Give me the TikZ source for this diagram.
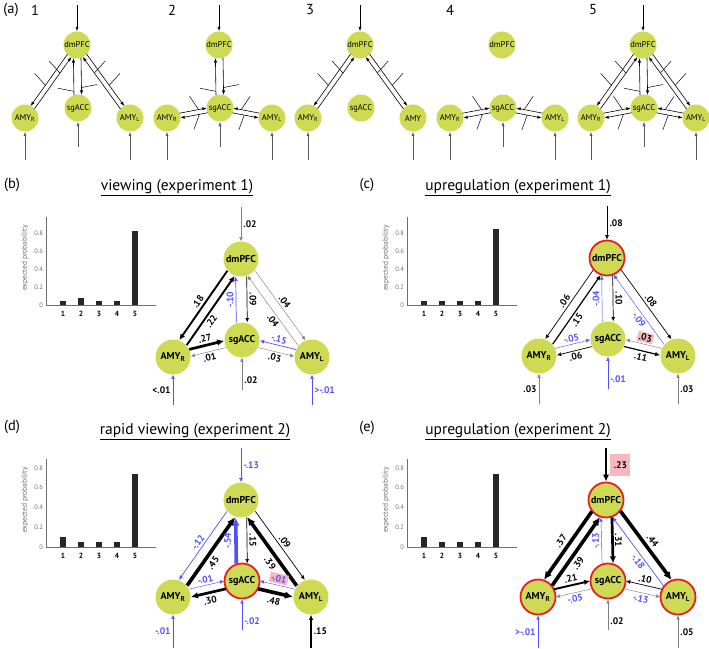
\documentclass[tikz,border=0pt]{standalone}
\usepackage{fontspec}
\setmainfont{PT Sans}
\usepackage{tikz}
\usetikzlibrary{arrows.meta,calc}

\definecolor{nodegreen}{RGB}{206,218,84}
\definecolor{negblue}{RGB}{80,80,255}
\definecolor{hotred}{RGB}{230,30,36}
\definecolor{pinkbg}{RGB}{246,184,190}
\definecolor{axisgray}{RGB}{110,110,110}

% one connection between two regions, moved sideways by #4
\newcommand{\conn}[5][]{%
  \draw[#1] ($(#2)!17.5pt!(#3)!#4!90:(#3)$) -- ($(#3)!17.5pt!(#2)!#4!-90:(#2)$) #5;}

% two opposite arrows between #1 and #2, each with a modulating input
% (#4 angle and #5 spot on #1->#2, #6 angle and #7 spot on #2->#1)
\newcommand{\duo}[7]{%
  \draw[arrA] ($(#1)!13pt!(#2)!#3!90:(#2)$) coordinate (u1) -- ($(#2)!13pt!(#1)!#3!-90:(#1)$) coordinate (u2);
  \draw[arrA] ($(#2)!13pt!(#1)!#3!90:(#1)$) coordinate (v1) -- ($(#1)!13pt!(#2)!#3!-90:(#2)$) coordinate (v2);
  \coordinate (u) at ($(u1)!#5!(u2)$);
  \coordinate (v) at ($(v1)!#7!(v2)$);
  \draw[modA] ($(u)+(#4:16pt)$) -- (u);
  \draw[modA] ($(v)+(#6:16pt)$) -- (v);}

\begin{document}
\begin{tikzpicture}[x=1pt, y=-1pt,
  region/.style={circle, fill=nodegreen, inner sep=0pt, minimum size=35pt, font=\fontsize{10}{10}\selectfont\bfseries},
  hot/.style={draw=hotred, line width=1.8pt},
  tiny/.style={circle, fill=nodegreen, inner sep=0pt, minimum size=27pt, font=\fontsize{8.5}{9}\selectfont},
  arrA/.style={-{Latex[length=4.5pt,width=3.2pt]}, line width=0.6pt},
  modA/.style={line width=0.5pt},
  wire/.style={-{Latex[length=3.5pt 1.3,width=3pt 1.3]}},
  w0/.style={wire, line width=0.45pt, draw=black!50},
  w1/.style={wire, line width=0.7pt},
  w2/.style={wire, line width=1.2pt},
  w3/.style={wire, line width=1.9pt},
  w4/.style={wire, line width=2.7pt},
  w5/.style={wire, line width=3.6pt},
  neg/.style={draw=negblue, text=negblue},
  lab/.style={font=\fontsize{9.5}{10}\selectfont\bfseries, inner sep=2.2pt},
  flag/.style={fill=pinkbg, inner sep=1.5pt},
  title/.style={font=\fontsize{15.5}{16}\selectfont},
  tag/.style={font=\fontsize{14.5}{15}\selectfont},
  numtag/.style={font=\fontsize{14.5}{15}\selectfont},
  tick/.style={font=\fontsize{6.5}{7}\selectfont, text=axisgray, anchor=east, inner sep=1pt},
  cat/.style={font=\fontsize{7.5}{8}\selectfont\bfseries},
  ylab/.style={font=\fontsize{7.5}{8}\selectfont, text=axisgray, rotate=90},
  axis/.style={draw=axisgray, line width=0.6pt},
  bar/.style={fill=black!85}
]
\useasboundingbox (0,0) rectangle (709,648);

% (a) five candidate models
\node[tag] at (11,10) {(a)};
\foreach \k/\x/\nx/\lname in {1/77/35/AMY\textsubscript{L}, 2/219/172/AMY\textsubscript{L}, 3/360/310/AMY, 4/502/450/AMY\textsubscript{L}, 5/643/593/AMY\textsubscript{L}} {
  \node[numtag] at (\nx,10) {\k};
  \node[tiny] (pfc\k) at (\x,45) {dmPFC};
  \node[tiny] (acc\k) at (\x+1,108) {sgACC};
  \node[tiny] (amr\k) at (\x-52,118) {AMY\textsubscript{R}};
  \node[tiny] (aml\k) at (\x+53,118) {\lname};
  \coordinate (inr\k) at (\x-52,160);
  \coordinate (inl\k) at (\x+53,160);
  \draw[arrA, draw=black!65] (inr\k) -- (amr\k);
  \draw[arrA, draw=black!65] (inl\k) -- (aml\k);
}
\foreach \k/\x in {1/77, 2/219, 3/360, 5/643} {
  \coordinate (top\k) at (\x,5);
  \draw[arrA] (top\k) -- (pfc\k);
}
\foreach \k/\x in {1/77, 2/219, 4/502, 5/643} {
  \coordinate (low\k) at (\x+1,147);
  \draw[arrA, draw=black!65] (low\k) -- (acc\k);
}
% model connections
\duo{pfc1}{amr1}{-2.4pt}{132}{0.6}{132}{0.69}
\duo{pfc1}{acc1}{3.8pt}{11}{0.8}{169}{0.1}
\duo{pfc1}{aml1}{2.4pt}{48}{0.6}{48}{0.69}
\duo{pfc2}{acc2}{3.8pt}{11}{0.8}{169}{0.1}
\duo{amr2}{acc2}{2.4pt}{124}{0.7}{250}{0.3}
\duo{aml2}{acc2}{-2.4pt}{56}{0.7}{250}{0.45}
\duo{pfc3}{amr3}{-2.4pt}{132}{0.6}{132}{0.69}
\duo{pfc3}{aml3}{2.4pt}{48}{0.6}{48}{0.69}
\duo{amr4}{acc4}{2.4pt}{124}{0.7}{250}{0.3}
\duo{aml4}{acc4}{-2.4pt}{56}{0.7}{250}{0.45}
\duo{pfc5}{amr5}{-2.4pt}{132}{0.6}{132}{0.69}
\duo{pfc5}{acc5}{3.8pt}{11}{0.8}{169}{0.1}
\duo{pfc5}{aml5}{2.4pt}{48}{0.6}{48}{0.69}
\duo{amr5}{acc5}{2.4pt}{124}{0.7}{250}{0.3}
\duo{aml5}{acc5}{-2.4pt}{56}{0.7}{250}{0.45}

% panel tags and titles
\node[tag] at (12,185) {(b)};
\node[title] at (177,188) {\underline{viewing (experiment 1)}};
\node[tag] at (367,185) {(c)};
\node[title] at (518,188) {\underline{upregulation (experiment 1)}};
\node[tag] at (12,427) {(d)};
\node[title] at (195,432) {\underline{rapid viewing (experiment 2)}};
\node[tag] at (367,428) {(e)};
\node[title] at (518,432) {\underline{upregulation (experiment 2)}};

% expected probability of the five models
\foreach \ox/\oy/\sc/\vals in {46/305/90/{0.04,0.08,0.04,0.04,0.82}, 407/305/90/{0.04,0.04,0.04,0.04,0.85}, 46/547/99/{0.10,0.05,0.05,0.05,0.74}, 407/547/99/{0.10,0.05,0.05,0.05,0.74}} {
  \begin{scope}[shift={(\ox,\oy)}]
    \draw[axis] (0,-88) -- (0,0) -- (110,0);
    \foreach \tk in {0,0.2,0.4,0.6,0.8} \node[tick] at (-2,{-\sc*\tk}) {\tk};
    \foreach \val [count=\i] in \vals {
      \fill[bar] ({18*\i-4},0) rectangle ({18*\i+2},{-\sc*\val});
      \node[cat] at ({18*\i-1},9) {\i};
    }
    \node[ylab] at (-21,-47) {expected probability};
  \end{scope}
}

% (b) viewing, experiment 1
\begin{scope}[shift={(241,259)}]
  \node[region] (bPFC) at (0,0) {dmPFC};
  \node[region] (bACC) at (1,81) {sgACC};
  \node[region] (bAR) at (-68,98) {AMY\textsubscript{R}};
  \node[region] (bAL) at (71,98) {AMY\textsubscript{L}};
  \coordinate (bTop) at (0,-52);
  \coordinate (bBotR) at (-68,146);
  \coordinate (bBotS) at (1,131);
  \coordinate (bBotL) at (71,146);
\end{scope}
\draw[w0] (bTop) -- (bPFC) node[lab, midway, right] {.02};
\draw[w0, neg] (bBotR) -- (bAR) node[lab, midway, left, text=black] {<.01};
\draw[w0] (bBotS) -- (bACC) node[lab, pos=0.3, right] {.02};
\draw[w0, neg] (bBotL) -- (bAL) node[lab, midway, right] {>-.01};
\conn[w3]{bPFC}{bAR}{-4.5pt}{node[lab, midway, sloped, above] {.18}}
\conn[w3]{bAR}{bPFC}{-4.5pt}{node[lab, pos=0.4, sloped, below] {.22}}
\conn[w1, neg]{bACC}{bPFC}{5.5pt}{node[lab, midway, rotate=90, anchor=south] {-.10}}
\conn[w1]{bPFC}{bACC}{5.5pt}{node[lab, midway, rotate=-90, anchor=south] {.09}}
\conn[w0]{bPFC}{bAL}{4.5pt}{node[lab, midway, sloped, above] {.04}}
\conn[w0]{bAL}{bPFC}{4.5pt}{node[lab, pos=0.4, sloped, below] {.04}}
\conn[w4]{bAR}{bACC}{3.5pt}{node[lab, midway, sloped, above] {.27}}
\conn[w0]{bACC}{bAR}{3.5pt}{node[lab, midway, sloped, below] {.01}}
\conn[w1, neg]{bAL}{bACC}{-3.5pt}{node[lab, midway, sloped, above] {-.15}}
\conn[w0]{bACC}{bAL}{-3.5pt}{node[lab, midway, sloped, below] {.03}}

% (c) upregulation, experiment 1
\begin{scope}[shift={(607,258)}]
  \node[region, hot] (cPFC) at (0,0) {dmPFC};
  \node[region] (cACC) at (1,81) {sgACC};
  \node[region] (cAR) at (-68,98) {AMY\textsubscript{R}};
  \node[region] (cAL) at (71,98) {AMY\textsubscript{L}};
  \coordinate (cTop) at (0,-52);
  \coordinate (cBotR) at (-68,146);
  \coordinate (cBotS) at (1,131);
  \coordinate (cBotL) at (71,146);
\end{scope}
\draw[w1] (cTop) -- (cPFC) node[lab, midway, right] {.08};
\draw[w0] (cBotR) -- (cAR) node[lab, midway, left] {.03};
\draw[w0, neg] (cBotS) -- (cACC) node[lab, pos=0.3, right] {-.01};
\draw[w0] (cBotL) -- (cAL) node[lab, midway, right] {.03};
\conn[w1]{cPFC}{cAR}{-4.5pt}{node[lab, midway, sloped, above] {.06}}
\conn[w2]{cAR}{cPFC}{-4.5pt}{node[lab, pos=0.4, sloped, below] {.15}}
\conn[w0, neg]{cACC}{cPFC}{5.5pt}{node[lab, midway, rotate=90, anchor=south] {-.04}}
\conn[w1]{cPFC}{cACC}{5.5pt}{node[lab, midway, rotate=-90, anchor=south] {.10}}
\conn[w1]{cPFC}{cAL}{4.5pt}{node[lab, midway, sloped, above] {.08}}
\conn[w0, neg]{cAL}{cPFC}{4.5pt}{node[lab, pos=0.4, sloped, below] {-.09}}
\conn[w0, neg]{cAR}{cACC}{3.5pt}{node[lab, midway, sloped, above] {-.05}}
\conn[w1]{cACC}{cAR}{3.5pt}{node[lab, midway, sloped, below] {.06}}
\conn[w0]{cAL}{cACC}{-3.5pt}{node[lab, flag, midway, sloped, above=1.5pt] {.03}}
\conn[w2]{cACC}{cAL}{-3.5pt}{node[lab, midway, sloped, below] {.11}}

% (d) rapid viewing, experiment 2
\begin{scope}[shift={(241,500)}]
  \node[region] (dPFC) at (0,0) {dmPFC};
  \node[region, hot] (dACC) at (1,81) {sgACC};
  \node[region] (dAR) at (-68,97) {AMY\textsubscript{R}};
  \node[region] (dAL) at (70,97) {AMY\textsubscript{L}};
  \coordinate (dTop) at (0,-52);
  \coordinate (dBotR) at (-68,148);
  \coordinate (dBotS) at (1,130);
  \coordinate (dBotL) at (70,148);
\end{scope}
\draw[w1, neg] (dTop) -- (dPFC) node[lab, midway, right] {-.13};
\draw[w0, neg] (dBotR) -- (dAR) node[lab, midway, left] {-.01};
\draw[w0, neg] (dBotS) -- (dACC) node[lab, pos=0.3, right] {-.02};
\draw[w2] (dBotL) -- (dAL) node[lab, midway, right] {.15};
\conn[w1, neg]{dPFC}{dAR}{-5pt}{node[lab, midway, sloped, above] {-.12}}
\conn[w5]{dAR}{dPFC}{-5pt}{node[lab, pos=0.4, sloped, below=1pt] {.45}}
\conn[w5, neg]{dACC}{dPFC}{5.5pt}{node[lab, midway, rotate=90, anchor=south, yshift=1pt] {-.54}}
\conn[w1]{dPFC}{dACC}{5.5pt}{node[lab, midway, rotate=-90, anchor=south] {.15}}
\conn[w1]{dPFC}{dAL}{5pt}{node[lab, midway, sloped, above] {.09}}
\conn[w5]{dAL}{dPFC}{5pt}{node[lab, pos=0.4, sloped, below=1pt] {.39}}
\conn[w0, neg]{dAR}{dACC}{4pt}{node[lab, midway, sloped, above] {-.01}}
\conn[w4]{dACC}{dAR}{4pt}{node[lab, midway, sloped, below=1pt] {.30}}
\conn[w0, neg]{dAL}{dACC}{-4pt}{node[lab, flag, midway, sloped, above=1.5pt] {-.01}}
\conn[w5]{dACC}{dAL}{-4pt}{node[lab, midway, sloped, below=1pt] {.48}}

% (e) upregulation, experiment 2
\begin{scope}[shift={(606,500)}]
  \node[region, hot] (ePFC) at (0,0) {dmPFC};
  \node[region, hot] (eACC) at (2,81) {sgACC};
  \node[region, hot] (eAR) at (-68,97) {AMY\textsubscript{R}};
  \node[region, hot] (eAL) at (72,97) {AMY\textsubscript{L}};
  \coordinate (eTop) at (0,-52);
  \coordinate (eBotR) at (-68,148);
  \coordinate (eBotS) at (2,130);
  \coordinate (eBotL) at (72,148);
\end{scope}
\draw[w4] (eTop) -- (ePFC) node[lab, flag, midway, right=3pt, minimum width=20pt, minimum height=22pt] {.23};
\draw[w0, neg] (eBotR) -- (eAR) node[lab, midway, left] {>-.01};
\draw[w0] (eBotS) -- (eACC) node[lab, pos=0.3, right] {.02};
\draw[w0] (eBotL) -- (eAL) node[lab, midway, right] {.05};
\conn[w5]{ePFC}{eAR}{-5pt}{node[lab, midway, sloped, above=1pt] {.37}}
\conn[w5]{eAR}{ePFC}{-5pt}{node[lab, pos=0.4, sloped, below=1pt] {.39}}
\conn[w0, neg]{eACC}{ePFC}{5.5pt}{node[lab, midway, rotate=90, anchor=south] {-.13}}
\conn[w4]{ePFC}{eACC}{5.5pt}{node[lab, midway, rotate=-90, anchor=south, yshift=-1pt] {.31}}
\conn[w5]{ePFC}{eAL}{5pt}{node[lab, midway, sloped, above=1pt] {.44}}
\conn[w1, neg]{eAL}{ePFC}{5pt}{node[lab, pos=0.4, sloped, below] {-.18}}
\conn[w3]{eAR}{eACC}{4pt}{node[lab, midway, sloped, above] {.21}}
\conn[w0]{eACC}{eAR}{4pt}{node[lab, midway, sloped, below, text=negblue] {-.05}}
\conn[w1]{eAL}{eACC}{-4pt}{node[lab, midway, sloped, above] {.10}}
\conn[w0]{eACC}{eAL}{-4pt}{node[lab, midway, sloped, below, text=negblue] {-.13}}

\end{tikzpicture}
\end{document}
